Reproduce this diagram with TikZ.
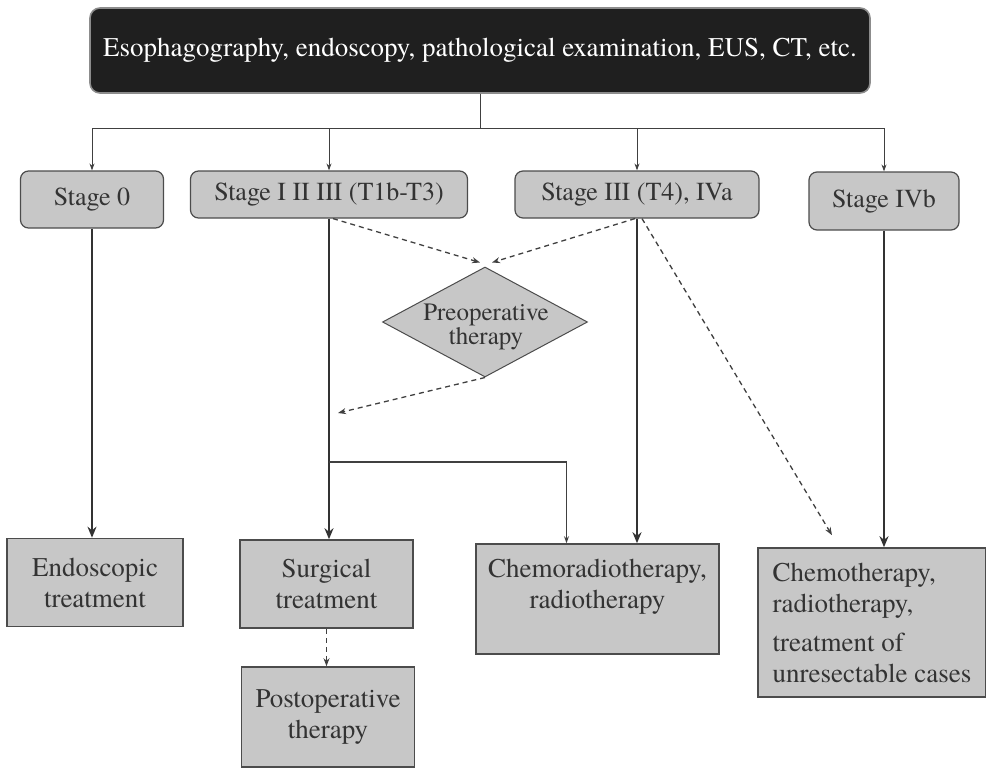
\documentclass[tikz,border=0pt]{standalone}
\usepackage{fontspec}
\setmainfont{TeX Gyre Termes}
\usetikzlibrary{shapes.geometric,arrows.meta}
\begin{document}
\begin{tikzpicture}[x=1pt,y=-1pt,
  topbox/.style={draw=black!45, line width=1.6pt, rounded corners=10pt, fill=black!88, text=white, inner sep=0pt, font=\fontsize{27}{31}\selectfont},
  stagebox/.style={draw=black!70, line width=1.2pt, rounded corners=8pt, fill=black!22, inner sep=0pt, text=black!80, font=\fontsize{26}{30}\selectfont},
  treatbox/.style={draw=black!70, line width=1.6pt, fill=black!22, inner sep=0pt, align=center, text=black!80, font=\fontsize{27}{31}\selectfont},
  diabox/.style={diamond, draw=black!70, line width=1pt, fill=black!22, inner sep=0pt},
  diatext/.style={align=center, text=black!80, inner sep=0pt, font=\fontsize{25}{24}\selectfont},
  conn/.style={draw=black!75, line width=0.9pt},
  arr/.style={-{Stealth[length=7pt,width=5pt]}},
  thickconn/.style={draw=black!80, line width=2.4pt, -{Stealth[length=11pt,width=9pt]}},
  dashconn/.style={draw=black!75, line width=1.3pt, dash pattern=on 5pt off 4pt, -{Stealth[length=8pt,width=6pt]}}
]
\useasboundingbox (0,0) rectangle (986,769);

% top
\node[topbox, minimum width=780pt, minimum height=85pt] (top) at (480,50.5) {Esophagography, endoscopy, pathological examination, EUS, CT, etc.};

% stages
\node[stagebox, minimum width=143pt, minimum height=57pt] (s0) at (92,199.5) {Stage 0};
\node[stagebox, minimum width=277pt, minimum height=47pt] (s1) at (329,194.5) {Stage I II III (T1b-T3)};
\node[stagebox, minimum width=244pt, minimum height=47pt] (s3) at (637,194.5) {Stage III (T4), IVa};
\node[stagebox, minimum width=150pt, minimum height=58pt] (s4) at (884,201) {Stage IVb};

% diamond
\node[diabox, minimum width=205pt, minimum height=110pt] (dia) at (485,322) {};
\node[diatext] (diat) at (486,327) {Preoperative\\therapy};

% treatments
\node[treatbox, minimum width=176pt, minimum height=88pt] (endo) at (95,582.5) {Endoscopic\\treatment};
\node[treatbox, minimum width=173pt, minimum height=88pt] (surg) at (326.5,584) {Surgical\\treatment};
\node[treatbox, minimum width=173pt, minimum height=100pt] (post) at (328,717) {Postoperative\\therapy};
\node[treatbox, minimum width=243pt, minimum height=110pt] (crt) at (597.5,599) {Chemoradiotherapy,\\radiotherapy\\[0pt]~};
\node[treatbox, align=left, minimum width=228pt, minimum height=149pt] (chemo) at (872,622.5) {Chemotherapy,\\radiotherapy,\\[8pt]treatment of\\unresectable cases};

% distribution
\coordinate (hub) at (480,128);
\draw[conn] (top.south) -- (hub);
\draw[conn] (s0.north |- hub) -- (s4.north |- hub);
\foreach \n in {s0,s1,s3,s4} \draw[conn,arr] (\n.north |- hub) -- (\n.north);

% main thick paths
\draw[thickconn] (s0.south) -- (s0.south |- endo.north);
\draw[thickconn] (s1.south) -- (s1.south |- surg.north);
\draw[thickconn] (s3.south) -- (s3.south |- crt.north);
\draw[thickconn] (s4.south) -- (s4.south |- chemo.north);

% branch to chemoradiotherapy
\coordinate (br) at (329,462);
\draw[conn, line width=1.3pt, arr] (br) -| ([xshift=-31pt]crt.north);

% dashed
\draw[dashconn] ([xshift=4pt]s1.south) -- ([xshift=-5pt,yshift=4pt]dia.north);
\draw[dashconn] ([xshift=-2pt]s3.south) -- ([xshift=7pt,yshift=4pt]dia.north);
\coordinate (preend) at (338,413);
\draw[dashconn] (dia.south) -- (preend);
\draw[dashconn] ([xshift=5pt]s3.south) -- ([xshift=-40pt,yshift=12pt]chemo.north);
\draw[dashconn] (surg.south) -- (surg.south |- post.north);
\end{tikzpicture}
\end{document}
